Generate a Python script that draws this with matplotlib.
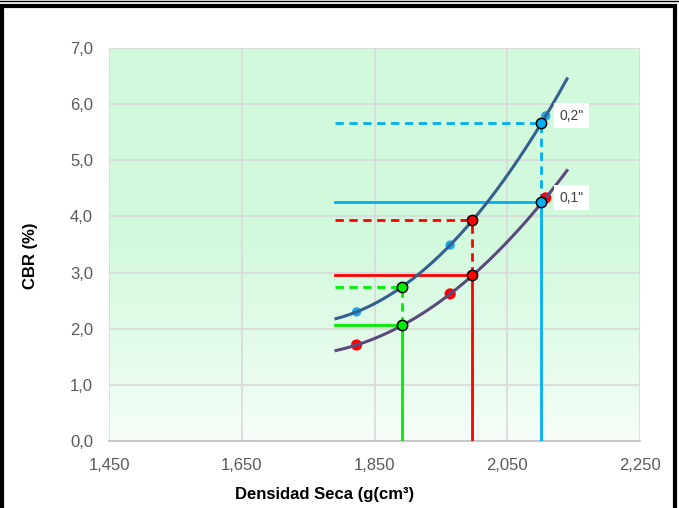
import numpy as np
import matplotlib
matplotlib.use("Agg")
import matplotlib.pyplot as plt
from matplotlib.patches import Rectangle
from matplotlib.lines import Line2D

plt.rcParams['font.family'] = ['Liberation Sans', 'DejaVu Sans']

# Data
dens = [1.823, 1.964, 2.108]
cbr_02 = [2.30, 3.49, 5.79]
cbr_01 = [1.71, 2.62, 4.33]
curve_range = [1.792, 2.140]
line_start = 1.790

# reference markers (x, CBR 0.1", CBR 0.2", colour)
ref_x = [1.891, 1.997, 2.101]
ref_01 = [2.07, 2.95, 4.25]
ref_02 = [2.75, 3.93, 5.66]
ref_colors = ['#00ee00', '#ff0000', '#00b0f0']

xticks = [1.450, 1.650, 1.850, 2.050, 2.250]
xticklabels = ['1,450', '1,650', '1,850', '2,050', '2,250']
yticks = [0, 1, 2, 3, 4, 5, 6, 7]
yticklabels = ['0,0', '1,0', '2,0', '3,0', '4,0', '5,0', '6,0', '7,0']

fig = plt.figure(figsize=(6.79, 5.08), dpi=100)
ax = fig.add_axes([109/679, 1-441/508, (640-109)/679, (441-48)/508])
ax.set_xlim(1.45, 2.25)
ax.set_ylim(0, 7)

# background gradient
grad = np.ones((256, 1, 3))
t = np.linspace(0, 1, 256)  # 0 bottom -> 1 top
w = np.clip((t + 0.05) / 0.55, 0, 1) ** 0.7
top = np.array([0.83, 0.98, 0.87])
for i in range(3):
    grad[:, 0, i] = 1 - w * (1 - top[i])
ax.imshow(grad, extent=[1.45, 2.25, 0, 7], origin='lower', aspect='auto', zorder=0)

ax.set_xticks(xticks)
ax.set_xticklabels(xticklabels)
ax.set_yticks(yticks)
ax.set_yticklabels(yticklabels)
ax.grid(True, color='#d9d9d9', linewidth=1.2, zorder=1)
ax.set_axisbelow(True)
for s in ['top', 'right', 'left']:
    ax.spines[s].set_visible(False)
ax.spines['bottom'].set_color('#bfbfbf')
ax.spines['bottom'].set_linewidth(1.2)
ax.tick_params(axis='both', length=0, labelsize=12, labelcolor='#595959')
ax.tick_params(axis='x', pad=12)
ax.tick_params(axis='y', pad=11.5)

fig.text(325/679, 1 - 494/508, 'Densidad Seca (g(cm³)', fontsize=12, fontweight='bold',
         ha='center', va='center')
fig.text(30/679, 1 - 256/508, 'CBR (%)', fontsize=12, fontweight='bold',
         ha='center', va='center', rotation=90)

# reference lines
for x, y1, y2, c in zip(ref_x, ref_01, ref_02, ref_colors):
    ax.plot([line_start, x], [y1, y1], color=c, lw=2, zorder=3)
    ax.plot([x, x], [0, y1], color=c, lw=2, zorder=3)
    ax.plot([line_start, x], [y2, y2], color=c, lw=2, ls=(0, (3, 2)), zorder=3)
    ax.plot([x, x], [y1, y2], color=c, lw=2, ls=(0, (3, 2)), zorder=3)

# data points
ax.scatter(dens, cbr_02, s=45, color='#1fa8e8', zorder=4, edgecolors='none')
ax.scatter(dens, cbr_01, s=65, color='#ff0000', zorder=4, edgecolors='none')

# trendlines
xs = np.linspace(curve_range[0], curve_range[1], 200)
p2 = np.polyfit(dens, cbr_02, 2)
p1 = np.polyfit(dens, cbr_01, 2)
ax.plot(xs, np.polyval(p2, xs), color='#33608f', lw=2.2, zorder=5)
ax.plot(xs, np.polyval(p1, xs), color='#5a4a7e', lw=2.2, zorder=5)

# markers on curves
for x, y1, y2, c in zip(ref_x, ref_01, ref_02, ref_colors):
    ax.scatter([x, x], [y1, y2], s=55, color=c, edgecolors='black', linewidths=1.1, zorder=6)

# labels
ax.text(2.129, 5.79, '0,2"', fontsize=10, color='#404040', va='center', ha='left', zorder=7,
        bbox=dict(boxstyle='square,pad=0.4', fc='white', ec='none'))
ax.text(2.129, 4.33, '0,1"', fontsize=10, color='#404040', va='center', ha='left', zorder=7,
        bbox=dict(boxstyle='square,pad=0.4', fc='white', ec='none'))

# figure frame
fig.patches.append(Rectangle((1.5/679, -0.02), (674.5-1.5)/679, 1 - 6.5/508 + 0.02,
                             transform=fig.transFigure, fill=False, ec='black', lw=3))
fig.lines.append(Line2D([0, 1], [1 - 0.5/508, 1 - 0.5/508], transform=fig.transFigure,
                        color='black', lw=1))

fig.savefig('out.png', dpi=100)
